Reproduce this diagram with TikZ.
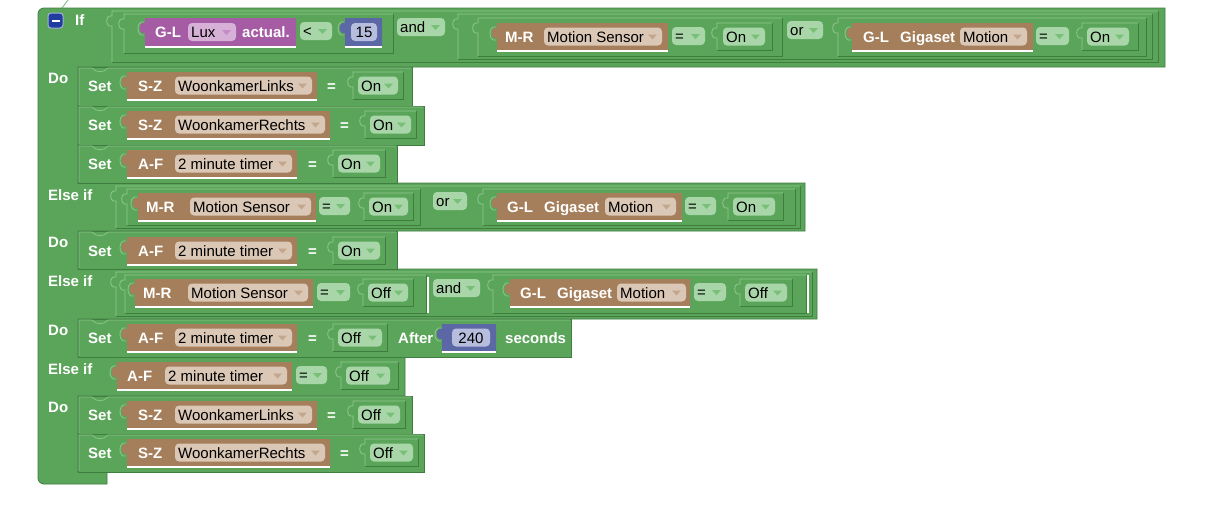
\documentclass[tikz,border=0pt]{standalone}
\usepackage{fontspec}
\setmainfont{Liberation Sans}
\usepackage{xcolor}
\usepackage{tikz}

\definecolor{bgreen}{HTML}{5BA55B}
\definecolor{gdk}{HTML}{3F7D3F}
\definecolor{ghi}{HTML}{8FC78F}
\definecolor{grnf}{HTML}{A9D6A9}
\definecolor{grna}{HTML}{78BF78}
\definecolor{brn}{HTML}{A57F5B}
\definecolor{brnf}{HTML}{DAC7B5}
\definecolor{brna}{HTML}{C2A68E}
\definecolor{purp}{HTML}{A55CA5}
\definecolor{purpf}{HTML}{D6B0D6}
\definecolor{purpa}{HTML}{C58BC5}
\definecolor{blu}{HTML}{5C68A6}
\definecolor{bluf}{HTML}{B7BDDC}
\definecolor{minusblue}{HTML}{1F3C9E}

\newcommand{\grpblk}[4]{%
  \fill[bgreen] (#1,#2) -- (#3,#2) -- (#3,#4) -- (#1,#4) -- (#1,#2+15)
    .. controls (#1-7,#2+17) and (#1-7,#2+3) .. (#1,#2+5) -- cycle;
  \draw[gdk, line width=0.8pt] (#1,#4) -- (#3,#4) -- (#3,#2);
  \draw[ghi, line width=0.8pt] (#1,#4) -- (#1,#2+15)
    .. controls (#1-7,#2+17) and (#1-7,#2+3) .. (#1,#2+5) -- (#1,#2) -- (#3,#2);}
\newcommand{\valblk}[5]{%
  \draw[ghi, line width=0.8pt] (#2-1,#3+17) .. controls (#2-9,#3+19) and (#2-9,#3+2) .. (#2-1,#3+4);
  \fill[#1] (#2,#3) -- (#4,#3) -- (#4,#5) -- (#2,#5) -- (#2,#3+15)
    .. controls (#2-7,#3+17) and (#2-7,#3+3) .. (#2,#3+5) -- cycle;
  \draw[white, line width=1.5pt] (#2,#5+0.75) -- (#4,#5+0.75);}
\newcommand{\stmt}[4]{%
  \filldraw[fill=bgreen, draw=gdk, line width=0.7pt] (#1,#2) rectangle (#3,#4);
  \draw[ghi, line width=0.7pt] (#1+1,#4-1) -- (#1+1,#2+1) -- (#1+14,#2+1)
    .. controls (#1+18,#2+6) and (#1+26,#2+6) .. (#1+30,#2+1) -- (#3-1,#2+1);}
\newcommand{\field}[7]{%
  \fill[#2, rounded corners=4pt] (#4,#6-9) rectangle (#5,#6+9);
  \node[txt] (#1) at (#4+3,#6+5.5) {#7};
  \fill[#3] (#5-14,#6-2) -- (#5-5,#6-2) -- (#5-9.5,#6+3) -- cycle;}
\newcommand{\nfield}[6]{%
  \fill[#2, rounded corners=4pt] (#3,#5-9) rectangle (#4,#5+9);
  \node[txt, anchor=base] (#1) at ({(#3+#4)/2},#5+5.5) {#6};}

\begin{document}
\begin{tikzpicture}[
    x=1pt, y=-1pt,
    lbl/.style={text=white, font=\bfseries\fontsize{15}{17}\selectfont, inner sep=0pt, anchor=base west},
    txt/.style={text=black, font=\fontsize{15}{17}\selectfont, inner sep=0pt, anchor=base west},
    minus/.style={rectangle, rounded corners=3pt, fill=minusblue, draw=white!60!minusblue, line width=1pt, minimum size=15pt, inner sep=0pt}
]
    \useasboundingbox (0,0) rectangle (1208,528);
    \fill[white] (0,0) rectangle (1208,528);

    \coordinate (foot) at (62,8);
    \coordinate (tip) at (68,0);
    \draw[ghi, line width=1pt] (foot) -- (tip);

    \filldraw[fill=bgreen, draw=gdk, line width=0.8pt]
      (38,200) [rounded corners=6pt] -- (38,8) -- (300,8) [sharp corners] -- (1165,8) -- (1165,67)
      -- (78,67) -- (78,183) -- (805,183) -- (805,231) -- (78,231) -- (78,269) -- (817,269)
      -- (817,319) -- (78,319) -- (78,357) -- (405,357) -- (405,396) -- (78,396) -- (78,472)
      -- (107,472) -- (107,484) -- (70,484) [rounded corners=6pt] -- (38,484) -- (38,200) -- cycle;

    \node[minus] (collapse) at (55.5,20.5) {};
    \draw[white, line width=2pt] ([xshift=-4pt]collapse.center) -- ([xshift=4pt]collapse.center);
    \node[lbl] (if) at (75,25.5) {If};
    \grpblk{112}{11}{1158}{62}
    \grpblk{124}{14}{393}{53}
    \valblk{purp}{145}{18}{296}{46}
    \node[lbl] (gl1) at (155,37.5) {G-L};
    \field{lux}{purpf}{purpa}{188}{236}{32}{Lux}
    \node[lbl] (actual) at (242,37.5) {actual.};
    \field{lt}{grnf}{grna}{300}{332}{31}{<}
    \valblk{blu}{345}{18}{382}{46}
    \nfield{n15}{bluf}{351}{377}{32}{15}
    \field{and1}{grnf}{grna}{397}{445}{27}{and}
    \grpblk{458}{14}{1152}{59}
    \grpblk{478}{18}{782}{56}
    \valblk{brn}{497}{23}{668}{50}
    \node[lbl] (mr1) at (505,42) {M-R};
    \field{ms1}{brnf}{brna}{544}{662}{36.5}{Motion Sensor}
    \field{eq1}{grnf}{grna}{672}{705}{36}{=}
    \grpblk{717}{23}{772}{50}
    \field{on1}{grnf}{grna}{723}{765}{36.5}{On}
    \field{or1}{grnf}{grna}{787}{823}{30}{or}
    \grpblk{838}{18}{1146}{56}
    \valblk{brn}{852}{23}{1033}{50}
    \node[lbl] (gl2) at (863,42) {G-L};
    \node[lbl] (gig1) at (900,42) {Gigaset};
    \field{mot1}{brnf}{brna}{960}{1027}{36.5}{Motion}
    \field{eq2}{grnf}{grna}{1036}{1069}{36}{=}
    \grpblk{1082}{23}{1138}{50}
    \field{on2}{grnf}{grna}{1087}{1129}{36.5}{On}

    \node[lbl] (do1) at (48,83) {Do};
    \stmt{78}{67}{412}{106}
    \node[lbl] (set1) at (88,91) {Set};
    \valblk{brn}{127}{72}{317}{99}
    \node[lbl] (sz1) at (138,91) {S-Z};
    \field{wl1}{brnf}{brna}{175}{312}{85.5}{WoonkamerLinks}
    \node[lbl] (is1) at (327,91) {=};
    \grpblk{353}{72}{403}{99}
    \field{on3}{grnf}{grna}{358}{398}{85.5}{On}

    \stmt{78}{106}{424}{145}
    \node[lbl] (set2) at (88,130) {Set};
    \valblk{brn}{127}{111}{330}{138}
    \node[lbl] (sz2) at (138,130) {S-Z};
    \field{wr1}{brnf}{brna}{175}{325}{124.5}{WoonkamerRechts}
    \node[lbl] (is2) at (340,130) {=};
    \grpblk{365}{111}{416}{138}
    \field{on4}{grnf}{grna}{370}{411}{124.5}{On}

    \stmt{78}{145}{397}{183}
    \node[lbl] (set3) at (88,169) {Set};
    \valblk{brn}{127}{150}{297}{177}
    \node[lbl] (af1) at (138,169) {A-F};
    \field{tm1}{brnf}{brna}{175}{292}{163.5}{2 minute timer}
    \node[lbl] (is3) at (308,169) {=};
    \grpblk{333}{150}{385}{177}
    \field{on5}{grnf}{grna}{338}{380}{163.5}{On}

    \node[lbl] (elif1) at (48,200) {Else if};
    \grpblk{116}{186}{800}{228}
    \grpblk{127}{189}{420}{225}
    \valblk{brn}{138}{193}{316}{220}
    \node[lbl] (mr2) at (146,212) {M-R};
    \field{ms2}{brnf}{brna}{190}{311}{206.5}{Motion Sensor}
    \field{eq3}{grnf}{grna}{319}{350}{206}{=}
    \grpblk{364}{193}{413}{220}
    \field{on6}{grnf}{grna}{369}{408}{206.5}{On}
    \field{or2}{grnf}{grna}{433}{467}{201}{or}
    \grpblk{483}{189}{795}{225}
    \valblk{brn}{497}{193}{682}{220}
    \node[lbl] (gl3) at (507,212) {G-L};
    \node[lbl] (gig2) at (544,212) {Gigaset};
    \field{mot2}{brnf}{brna}{605}{676}{206.5}{Motion}
    \field{eq4}{grnf}{grna}{685}{716}{206}{=}
    \grpblk{728}{193}{783}{220}
    \field{on7}{grnf}{grna}{733}{775}{206.5}{On}

    \node[lbl] (do2) at (48,247) {Do};
    \stmt{78}{231}{397}{269}
    \node[lbl] (set4) at (88,256) {Set};
    \valblk{brn}{127}{237}{297}{264}
    \node[lbl] (af2) at (138,256) {A-F};
    \field{tm2}{brnf}{brna}{175}{292}{250.5}{2 minute timer}
    \node[lbl] (is4) at (308,256) {=};
    \grpblk{333}{237}{385}{264}
    \field{on8}{grnf}{grna}{338}{380}{250.5}{On}

    \node[lbl] (elif2) at (48,286) {Else if};
    \grpblk{116}{272}{812}{316}
    \grpblk{125}{275}{426}{313}
    \draw[white, line width=1.2pt] (428,277) -- (428,313);
    \valblk{brn}{135}{279}{313}{306}
    \node[lbl] (mr3) at (143,298) {M-R};
    \field{ms3}{brnf}{brna}{188}{308}{292.5}{Motion Sensor}
    \field{eq5}{grnf}{grna}{317}{350}{292}{=}
    \grpblk{363}{279}{413}{306}
    \field{off1}{grnf}{grna}{368}{408}{292.5}{Off}
    \field{and2}{grnf}{grna}{433}{480}{288}{and}
    \grpblk{493}{275}{806}{313}
    \draw[white, line width=1.2pt] (808,275) -- (808,313);
    \valblk{brn}{510}{279}{690}{306}
    \node[lbl] (gl4) at (520,298) {G-L};
    \node[lbl] (gig3) at (557,298) {Gigaset};
    \field{mot3}{brnf}{brna}{617}{686}{292.5}{Motion}
    \field{eq6}{grnf}{grna}{694}{726}{292}{=}
    \grpblk{740}{279}{792}{306}
    \field{off2}{grnf}{grna}{745}{787}{292.5}{Off}

    \node[lbl] (do3) at (48,335) {Do};
    \stmt{78}{319}{571}{357}
    \node[lbl] (set5) at (88,343) {Set};
    \valblk{brn}{127}{324}{297}{351}
    \node[lbl] (af3) at (138,343) {A-F};
    \field{tm3}{brnf}{brna}{175}{292}{337.5}{2 minute timer}
    \node[lbl] (is5) at (308,343) {=};
    \grpblk{333}{324}{387}{351}
    \field{off3}{grnf}{grna}{338}{382}{337.5}{Off}
    \node[lbl] (after) at (398,343) {After};
    \valblk{blu}{442}{324}{496}{351}
    \nfield{n240}{bluf}{452}{490}{337.5}{240}
    \node[lbl] (secs) at (505,343) {seconds};

    \node[lbl] (elif3) at (48,374) {Else if};
    \valblk{brn}{117}{362}{292}{389}
    \node[lbl] (af4) at (127,381) {A-F};
    \field{tm4}{brnf}{brna}{165}{287}{375.5}{2 minute timer}
    \field{eq7}{grnf}{grna}{296}{327}{375}{=}
    \grpblk{341}{362}{398}{389}
    \field{off4}{grnf}{grna}{346}{390}{375.5}{Off}

    \node[lbl] (do4) at (48,412) {Do};
    \stmt{78}{396}{412}{434}
    \node[lbl] (set6) at (88,420) {Set};
    \valblk{brn}{127}{401}{317}{428}
    \node[lbl] (sz3) at (138,420) {S-Z};
    \field{wl2}{brnf}{brna}{175}{312}{414.5}{WoonkamerLinks}
    \node[lbl] (is6) at (327,420) {=};
    \grpblk{353}{401}{405}{428}
    \field{off5}{grnf}{grna}{358}{400}{414.5}{Off}

    \stmt{78}{434}{424}{472}
    \node[lbl] (set7) at (88,458) {Set};
    \valblk{brn}{127}{439}{330}{466}
    \node[lbl] (sz4) at (138,458) {S-Z};
    \field{wr2}{brnf}{brna}{175}{325}{452.5}{WoonkamerRechts}
    \node[lbl] (is7) at (340,458) {=};
    \grpblk{365}{439}{418}{466}
    \field{off6}{grnf}{grna}{370}{413}{452.5}{Off}
\end{tikzpicture}
\end{document}
